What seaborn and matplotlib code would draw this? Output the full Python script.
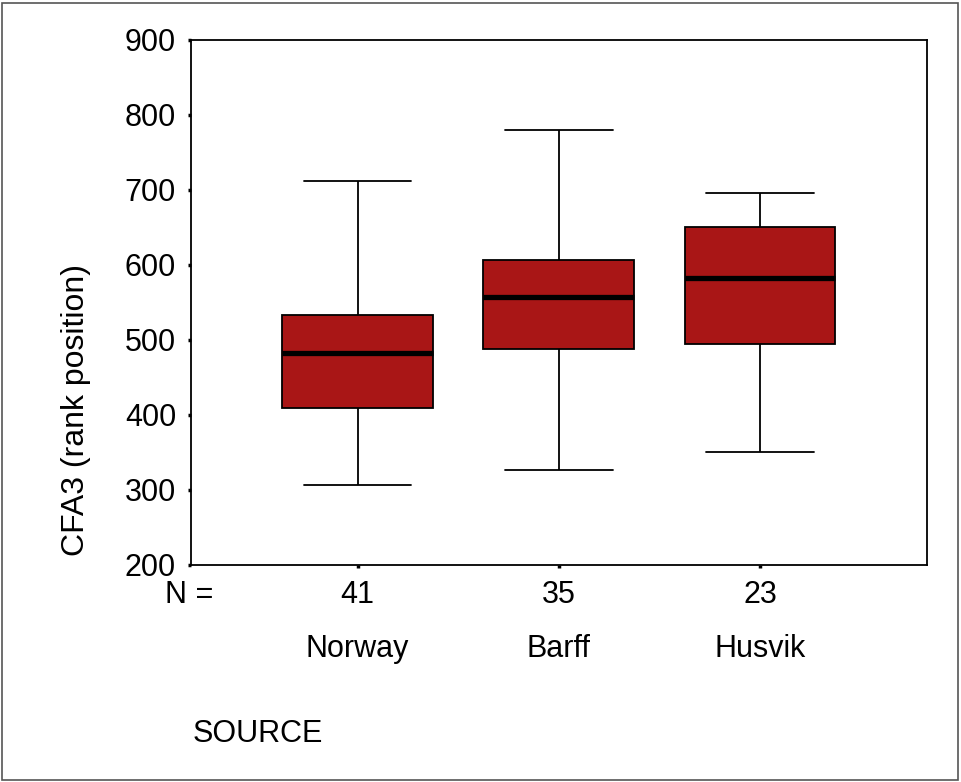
"""CFA3 rank position by source: SPSS-style boxplot."""
import matplotlib
matplotlib.use("Agg")
import matplotlib.pyplot as plt
import matplotlib.transforms as mtransforms
from matplotlib.patches import Rectangle
import pandas as pd
import seaborn as sns

SOURCES = ["Norway", "Barff", "Husvik"]
COUNTS = [41, 35, 23]
# five-number summaries: min, Q1, median, Q3, max
NORWAY = [306, 409, 483, 533, 712]
BARFF = [327, 488, 557, 606, 780]
HUSVIK = [351, 495, 582, 650, 696]
Y_TICKS = [200, 300, 400, 500, 600, 700, 800, 900]

BOX_RED = "#A91616"
FONT = 22

sns.set_style("white")
plt.rcParams["font.family"] = ["Liberation Sans", "DejaVu Sans"]
plt.rcParams.update({"text.color": "black", "xtick.color": "black",
                     "ytick.color": "black", "axes.labelcolor": "black"})

df = pd.DataFrame({
    "SOURCE": ["Norway"] * 5 + ["Barff"] * 5 + ["Husvik"] * 5,
    "CFA3": NORWAY + BARFF + HUSVIK,
})

W, H = 961, 782
fig = plt.figure(figsize=(W / 100, H / 100), dpi=100)
ax = fig.add_axes([190.7 / W, 1 - 565 / H, (927 - 190.7) / W, (565 - 39.5) / H])

sns.boxplot(data=df, x="SOURCE", y="CFA3", order=SOURCES, whis=(0, 100),
            width=0.75, color=BOX_RED, saturation=1, linecolor="black",
            linewidth=1.3, capwidths=0.535,
            medianprops=dict(linewidth=3.8, color="black"), ax=ax)

ax.set_xlim(-0.829, 2.83)
ax.set_ylim(200, 900)
ax.set_yticks(Y_TICKS)
ax.set_xticks(range(len(SOURCES)))
ax.set_xticklabels([])
ax.set_xlabel("")
ax.set_ylabel("")
ax.tick_params(axis="both", direction="out", length=2.5, width=2.5,
               color="black", labelcolor="black", labelsize=FONT, pad=8,
               left=True, bottom=True)
for sp in ax.spines.values():
    sp.set_visible(True)
    sp.set_color("black")
    sp.set_linewidth(1.3)

# N counts and category names below the axis
trans = mtransforms.blended_transform_factory(ax.transData, ax.transAxes)
for i, (name, n) in enumerate(zip(SOURCES, COUNTS)):
    ax.text(i, (565 - 603) / 525.5, str(n), transform=trans, ha="center",
            va="baseline", fontsize=FONT)
    ax.text(i, (565 - 657) / 525.5, name, transform=trans, ha="center",
            va="baseline", fontsize=FONT)

fig.text(165 / W, 1 - 603 / H, "N =", ha="left", va="baseline", fontsize=FONT)
fig.text(193 / W, 1 - 742 / H, "SOURCE", ha="left", va="baseline", fontsize=FONT)
fig.text(76 / W, 1 - 410 / H, "CFA3 (rank position)", rotation=90,
         ha="center", va="center", fontsize=FONT + 1)

# thin frame round the whole picture
fig.patches.append(Rectangle((2 / W, 2 / H), (W - 5) / W, (H - 5) / H,
                             transform=fig.transFigure, fill=False,
                             edgecolor="#555555", linewidth=1.2))

fig.savefig("out.png", dpi=100)
plt.close(fig)
